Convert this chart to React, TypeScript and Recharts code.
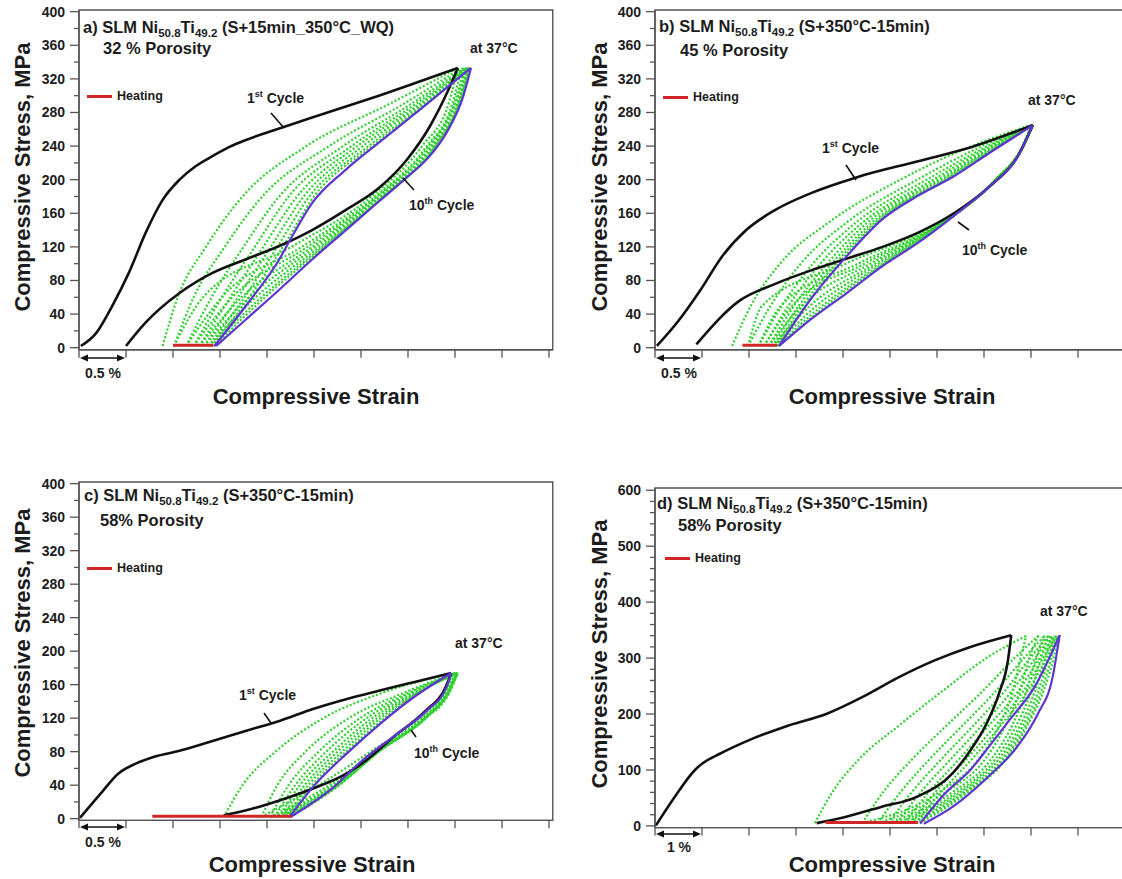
import React from 'react';
import { LineChart, Line, XAxis, YAxis, ReferenceArea } from 'recharts';

type P = [number, number];

// ================= Panel a (32 % porosity) =================
const A_BLACK_LOAD: P[] = [[0.02, 2], [0.18, 17], [0.35, 49], [0.53, 89], [0.71, 137], [0.89, 176], [1.07, 200], [1.24, 216], [1.42, 228], [1.6, 239], [1.77, 247], [2.13, 261], [2.48, 274], [2.84, 287], [3.19, 300], [3.6, 316], [4.03, 333]];
const A_BLACK_UNLOAD: P[] = [[0.5, 2], [0.71, 30], [1.07, 65], [1.42, 89], [1.77, 105], [2.13, 121], [2.48, 140], [2.84, 164], [3.19, 190], [3.49, 224], [3.73, 263], [3.93, 307], [4.03, 333]];
const A_PURPLE_LOAD: P[] = [[1.44, 2], [1.77, 49], [2.13, 105], [2.25, 129], [2.48, 172], [2.84, 212], [3.19, 244], [3.6, 281], [4.17, 333]];
const A_PURPLE_UNLOAD: P[] = [[1.46, 2], [1.77, 33], [2.13, 69], [2.48, 105], [2.84, 140], [3.19, 174], [3.49, 203], [3.73, 228], [3.91, 256], [4.09, 300], [4.17, 333]];
const A_LEVELS = [2, 60, 120, 180, 240, 290, 333];
const A_GREEN_LOAD_X = [
  [0.89, 1.05, 1.35, 1.74, 2.42, 3.3, 4.03],
  [1.01, 1.22, 1.55, 1.95, 2.66, 3.45, 4.07],
  [1.14, 1.41, 1.75, 2.13, 2.81, 3.53, 4.1],
  [1.22, 1.52, 1.87, 2.23, 2.9, 3.58, 4.12],
  [1.28, 1.61, 1.96, 2.32, 2.96, 3.62, 4.13],
  [1.33, 1.69, 2.04, 2.39, 3.02, 3.65, 4.14],
  [1.38, 1.76, 2.11, 2.45, 3.08, 3.68, 4.15],
  [1.41, 1.81, 2.17, 2.5, 3.12, 3.7, 4.16],
];
const A_GREEN_UNLOAD_X = [
  [1.01, 1.32, 2.26, 3.11, 3.65, 3.93, 4.03],
  [1.14, 1.52, 2.37, 3.15, 3.7, 3.97, 4.07],
  [1.22, 1.63, 2.43, 3.17, 3.72, 3.99, 4.1],
  [1.28, 1.73, 2.48, 3.19, 3.74, 4.0, 4.12],
  [1.33, 1.81, 2.52, 3.21, 3.76, 4.02, 4.13],
  [1.38, 1.88, 2.56, 3.22, 3.77, 4.03, 4.14],
  [1.41, 1.94, 2.59, 3.24, 3.79, 4.04, 4.15],
  [1.44, 1.98, 2.61, 3.24, 3.79, 4.04, 4.16],
];
const A_HEATING: P[] = [[1.0, 3], [1.43, 3]];

// ================= Panel b (45 % porosity) =================
const B_BLACK_LOAD: P[] = [[0.02, 2], [0.25, 32], [0.48, 68], [0.71, 108], [0.97, 140], [1.28, 164], [1.66, 184], [2.15, 203], [2.8, 222], [3.37, 239], [4.02, 265]];
const B_BLACK_UNLOAD: P[] = [[0.44, 4], [0.9, 56], [1.28, 76], [1.66, 92], [2.04, 106], [2.42, 120], [2.8, 137], [3.18, 160], [3.56, 192], [3.86, 228], [4.02, 265]];
const B_PURPLE_LOAD: P[] = [[1.32, 2], [1.66, 58], [2.04, 109], [2.42, 153], [2.8, 181], [3.18, 204], [3.56, 232], [4.02, 265]];
const B_PURPLE_UNLOAD: P[] = [[1.32, 2], [1.66, 34], [2.04, 65], [2.42, 97], [2.8, 125], [3.18, 157], [3.56, 192], [3.86, 228], [4.02, 265]];
const B_LEVELS = [2, 50, 100, 150, 200, 240, 265];
const B_GREEN_LOAD_X = [
  [0.82, 1.02, 1.33, 1.86, 2.61, 3.37, 4.0],
  [0.99, 1.23, 1.55, 2.05, 2.79, 3.48, 4.01],
  [1.1, 1.35, 1.68, 2.15, 2.89, 3.54, 4.01],
  [1.16, 1.42, 1.76, 2.22, 2.96, 3.57, 4.01],
  [1.21, 1.48, 1.83, 2.27, 3.01, 3.6, 4.02],
  [1.25, 1.53, 1.88, 2.32, 3.05, 3.62, 4.02],
  [1.28, 1.57, 1.92, 2.35, 3.08, 3.64, 4.02],
  [1.3, 1.6, 1.95, 2.37, 3.1, 3.66, 4.02],
];
const B_GREEN_UNLOAD_X = [
  [0.99, 1.14, 2.03, 3.04, 3.62, 3.91, 4.0],
  [1.1, 1.34, 2.16, 3.06, 3.62, 3.91, 4.01],
  [1.16, 1.46, 2.23, 3.07, 3.63, 3.92, 4.01],
  [1.21, 1.56, 2.29, 3.08, 3.63, 3.92, 4.01],
  [1.25, 1.65, 2.34, 3.08, 3.63, 3.92, 4.02],
  [1.28, 1.72, 2.38, 3.09, 3.63, 3.92, 4.02],
  [1.3, 1.78, 2.42, 3.09, 3.63, 3.92, 4.02],
  [1.32, 1.82, 2.44, 3.1, 3.63, 3.92, 4.02],
];
const B_HEATING: P[] = [[0.93, 3], [1.3, 3]];

// ================= Panel c (58 % porosity) =================
const C_BLACK_LOAD: P[] = [[0.01, 1], [0.23, 30], [0.42, 54], [0.61, 66], [0.8, 74], [1.07, 81], [1.43, 93], [1.78, 105], [2.14, 117], [2.49, 131], [2.85, 143], [3.2, 153], [3.56, 163], [3.96, 174]];
const C_BLACK_UNLOAD: P[] = [[1.54, 4], [1.78, 10], [2.14, 22], [2.49, 36], [2.85, 54], [3.06, 70], [3.36, 99], [3.68, 128], [3.9, 157], [3.96, 174]];
const C_PURPLE_LOAD: P[] = [[2.24, 2], [2.49, 38], [2.85, 78], [3.2, 113], [3.56, 145], [3.96, 174]];
const C_PURPLE_UNLOAD: P[] = [[2.25, 2], [2.67, 34], [3.02, 70], [3.38, 101], [3.7, 129], [3.91, 157], [3.96, 174]];
const C_LEVELS = [2, 40, 80, 120, 150, 174];
const C_GREEN_LOAD_X = [
  [1.54, 1.74, 2.09, 2.6, 3.22, 3.98],
  [1.94, 2.11, 2.41, 2.87, 3.45, 4.0],
  [2.03, 2.23, 2.55, 2.99, 3.5, 4.01],
  [2.08, 2.3, 2.63, 3.06, 3.53, 4.02],
  [2.13, 2.35, 2.7, 3.12, 3.56, 4.02],
  [2.16, 2.4, 2.75, 3.17, 3.58, 4.03],
  [2.2, 2.44, 2.8, 3.21, 3.6, 4.03],
  [2.22, 2.48, 2.84, 3.25, 3.61, 4.03],
];
const C_GREEN_UNLOAD_X = [
  [1.94, 2.55, 3.1, 3.62, 3.88, 3.98],
  [2.03, 2.66, 3.14, 3.65, 3.9, 4.0],
  [2.08, 2.7, 3.16, 3.66, 3.91, 4.01],
  [2.13, 2.72, 3.17, 3.67, 3.92, 4.02],
  [2.16, 2.74, 3.18, 3.68, 3.92, 4.02],
  [2.2, 2.75, 3.18, 3.68, 3.93, 4.03],
  [2.22, 2.76, 3.19, 3.69, 3.93, 4.03],
  [2.25, 2.77, 3.19, 3.69, 3.94, 4.03],
];
const C_HEATING: P[] = [[0.78, 3], [2.26, 3]];

// ================= Panel d (58 % porosity, 1 % scale) =================
const D_BLACK_LOAD: P[] = [[0.02, 1], [0.47, 58], [0.85, 100], [1.0, 111], [1.38, 129], [1.99, 153], [2.75, 177], [3.67, 201], [4.43, 231], [5.19, 266], [5.95, 296], [6.71, 320], [7.58, 341]];
const D_BLACK_UNLOAD: P[] = [[3.44, 5], [4.05, 16], [4.81, 34], [5.57, 52], [6.33, 94], [6.71, 135], [7.09, 189], [7.32, 237], [7.51, 296], [7.58, 341]];
const D_PURPLE_LOAD: P[] = [[5.64, 4], [6.17, 58], [6.71, 100], [7.09, 140], [7.54, 189], [8.08, 249], [8.61, 341]];
const D_PURPLE_UNLOAD: P[] = [[5.72, 4], [6.33, 34], [7.09, 88], [7.7, 141], [8.15, 201], [8.46, 266], [8.61, 341]];
const D_LEVELS = [5, 60, 120, 180, 240, 300, 340];
const D_GREEN_LOAD_X = [
  [3.4, 3.77, 4.35, 5.2, 6.1, 7.05, 7.9],
  [4.41, 4.85, 5.48, 6.21, 6.96, 7.65, 8.16],
  [4.74, 5.22, 5.85, 6.55, 7.24, 7.85, 8.29],
  [4.97, 5.46, 6.1, 6.78, 7.43, 7.98, 8.37],
  [5.15, 5.65, 6.3, 6.96, 7.58, 8.09, 8.43],
  [5.3, 5.82, 6.48, 7.11, 7.72, 8.18, 8.49],
  [5.44, 5.96, 6.63, 7.25, 7.83, 8.26, 8.54],
  [5.55, 6.08, 6.75, 7.36, 7.92, 8.33, 8.58],
];
const D_GREEN_UNLOAD_X = [
  [4.41, 6.04, 6.89, 7.33, 7.61, 7.78, 7.9],
  [4.74, 6.18, 7.03, 7.46, 7.76, 7.96, 8.16],
  [4.97, 6.32, 7.16, 7.6, 7.9, 8.11, 8.29],
  [5.15, 6.42, 7.25, 7.69, 8.0, 8.21, 8.37],
  [5.3, 6.49, 7.32, 7.77, 8.08, 8.3, 8.43],
  [5.44, 6.56, 7.39, 7.83, 8.15, 8.37, 8.49],
  [5.55, 6.61, 7.44, 7.89, 8.21, 8.43, 8.54],
  [5.64, 6.66, 7.48, 7.93, 8.26, 8.48, 8.58],
];
const D_HEATING: P[] = [[3.63, 6], [5.6, 6]];

// ================= Tick values =================
const Y_TICKS_400 = [0, 20, 40, 60, 80, 100, 120, 140, 160, 180, 200, 220, 240, 260, 280, 300, 320, 340, 360, 380, 400];
const Y_TICKS_600 = [0, 20, 40, 60, 80, 100, 120, 140, 160, 180, 200, 220, 240, 260, 280, 300, 320, 340, 360, 380, 400, 420, 440, 460, 480, 500, 520, 540, 560, 580, 600];
const X_TICKS_HALF = [0, 0.5, 1, 1.5, 2, 2.5, 3, 3.5, 4, 4.5, 5];
const X_TICKS_ONE = [0, 1, 2, 3, 4, 5, 6, 7, 8, 9, 10];

// ================= Styling =================
const FONT = '"Liberation Sans", Arial, Helvetica, sans-serif';
const AX = '#555555';
const TXT = '#1c1c1c';
const BLACK = '#111111';
const PURPLE = '#5f34d2';
const GREEN = '#30d030';
const RED = '#d22626';

const pts = (arr: P[]) => arr.map(([x, y]) => ({ x, y }));
const lvl = (xs: number[], levels: number[]) => xs.map((x, i) => ({ x, y: levels[i] }));

interface PanelCfg {
  id: string;
  axisX: number;
  y0: number;
  ppm: number;
  yTop: number;
  yBot: number;
  ppp: number;
  xMax: number;
  yTicks: number[];
  yMajor: number;
  xTicks: number[];
  blackLoad: P[];
  blackUnload: P[];
  purpleLoad: P[];
  purpleUnload: P[];
  levels: number[];
  greenLoad: number[][];
  greenUnload: number[][];
  heating: P[];
}

const PANELS: PanelCfg[] = [
  { id: 'a', axisX: 79, y0: 348, ppm: 0.84, yTop: 402, yBot: -2.4, ppp: 94, xMax: 5.04, yTicks: Y_TICKS_400, yMajor: 40, xTicks: X_TICKS_HALF,
    blackLoad: A_BLACK_LOAD, blackUnload: A_BLACK_UNLOAD, purpleLoad: A_PURPLE_LOAD, purpleUnload: A_PURPLE_UNLOAD,
    levels: A_LEVELS, greenLoad: A_GREEN_LOAD_X, greenUnload: A_GREEN_UNLOAD_X, heating: A_HEATING },
  { id: 'b', axisX: 655, y0: 348, ppm: 0.84, yTop: 402, yBot: -2.4, ppp: 94, xMax: 5.1, yTicks: Y_TICKS_400, yMajor: 40, xTicks: X_TICKS_HALF,
    blackLoad: B_BLACK_LOAD, blackUnload: B_BLACK_UNLOAD, purpleLoad: B_PURPLE_LOAD, purpleUnload: B_PURPLE_UNLOAD,
    levels: B_LEVELS, greenLoad: B_GREEN_LOAD_X, greenUnload: B_GREEN_UNLOAD_X, heating: B_HEATING },
  { id: 'c', axisX: 79, y0: 818.3, ppm: 0.8375, yTop: 402, yBot: -2, ppp: 94, xMax: 5.04, yTicks: Y_TICKS_400, yMajor: 40, xTicks: X_TICKS_HALF,
    blackLoad: C_BLACK_LOAD, blackUnload: C_BLACK_UNLOAD, purpleLoad: C_PURPLE_LOAD, purpleUnload: C_PURPLE_UNLOAD,
    levels: C_LEVELS, greenLoad: C_GREEN_LOAD_X, greenUnload: C_GREEN_UNLOAD_X, heating: C_HEATING },
  { id: 'd', axisX: 655, y0: 825.7, ppm: 0.5595, yTop: 604, yBot: -3, ppp: 47, xMax: 10.2, yTicks: Y_TICKS_600, yMajor: 100, xTicks: X_TICKS_ONE,
    blackLoad: D_BLACK_LOAD, blackUnload: D_BLACK_UNLOAD, purpleLoad: D_PURPLE_LOAD, purpleUnload: D_PURPLE_UNLOAD,
    levels: D_LEVELS, greenLoad: D_GREEN_LOAD_X, greenUnload: D_GREEN_UNLOAD_X, heating: D_HEATING },
];

const makeYTick = (major: number) => (props: any) => {
  const { x, y, payload } = props;
  const v = payload.value as number;
  const isMajor = Math.abs(v % major) < 1e-6;
  return (
    <g>
      <line x1={x} x2={x - (isMajor ? 9 : 5)} y1={y} y2={y} stroke={AX} strokeWidth={1.3} />
      {isMajor && (
        <text x={x - 14} y={y} dy={5} textAnchor="end" fontSize={14} fontWeight="bold" fill={TXT} fontFamily={FONT}>
          {v}
        </text>
      )}
    </g>
  );
};

const xTick = (props: any) => {
  const { x, y } = props;
  return <line x1={x} x2={x} y1={y} y2={y + 8} stroke={AX} strokeWidth={1.3} />;
};

function Panel({ p }: { p: PanelCfg }) {
  const YW = 50;
  const XH = 30;
  const MT = 8;
  const MR = 4;
  const plotTop = p.y0 - p.yTop * p.ppm;
  const plotH = (p.yTop - p.yBot) * p.ppm;
  const plotW = p.xMax * p.ppp;
  const common = { dataKey: 'y', type: 'monotone' as const, dot: false, activeDot: false, isAnimationActive: false };
  return (
    <div style={{ position: 'absolute', left: p.axisX - YW, top: plotTop - MT }}>
      <LineChart width={YW + plotW + MR} height={MT + plotH + XH} margin={{ top: MT, right: MR, bottom: 0, left: 0 }}>
        <XAxis type="number" dataKey="x" domain={[0, p.xMax]} ticks={p.xTicks} interval={0} allowDataOverflow height={XH}
          tickSize={0} tickMargin={0} tickLine={false} tick={xTick} axisLine={{ stroke: AX, strokeWidth: 1.4 }} />
        <YAxis type="number" domain={[p.yBot, p.yTop]} ticks={p.yTicks} interval={0} allowDataOverflow width={YW}
          tickSize={0} tickMargin={0} tickLine={false} tick={makeYTick(p.yMajor)} axisLine={{ stroke: AX, strokeWidth: 1.4 }} />
        <ReferenceArea x1={0} x2={p.xMax} y1={p.yBot} y2={p.yTop} fill="none" stroke={AX} strokeWidth={1.4} ifOverflow="visible" />
        {p.greenLoad.map((row, i) => (
          <Line key={`gl${i}`} {...common} data={lvl(row, p.levels)} stroke={GREEN} strokeWidth={2.2} strokeDasharray="2 2" />
        ))}
        {p.greenUnload.map((row, i) => (
          <Line key={`gu${i}`} {...common} data={lvl(row, p.levels)} stroke={GREEN} strokeWidth={2.2} strokeDasharray="2 2" />
        ))}
        <Line key="bl" {...common} data={pts(p.blackLoad)} stroke={BLACK} strokeWidth={2.6} />
        <Line key="bu" {...common} data={pts(p.blackUnload)} stroke={BLACK} strokeWidth={2.6} />
        <Line key="pl" {...common} data={pts(p.purpleLoad)} stroke={PURPLE} strokeWidth={2.2} />
        <Line key="pu" {...common} data={pts(p.purpleUnload)} stroke={PURPLE} strokeWidth={2.2} />
        <Line key="ht" {...common} type="linear" data={pts(p.heating)} stroke={RED} strokeWidth={3} />
      </LineChart>
    </div>
  );
}

const T = ({ x, y, size = 14, children }: { x: number; y: number; size?: number; children: React.ReactNode }) => (
  <div style={{ position: 'absolute', left: x, top: y, transform: 'translateY(-50%)', fontSize: size, fontWeight: 'bold', whiteSpace: 'nowrap', lineHeight: 1, color: TXT, fontFamily: FONT }}>
    {children}
  </div>
);

const TC = ({ x, y, size = 22, rotate = false, children }: { x: number; y: number; size?: number; rotate?: boolean; children: React.ReactNode }) => (
  <div style={{ position: 'absolute', left: x, top: y, transform: `translate(-50%, -50%)${rotate ? ' rotate(-90deg)' : ''}`, fontSize: size, fontWeight: 'bold', whiteSpace: 'nowrap', lineHeight: 1, color: TXT, fontFamily: FONT }}>
    {children}
  </div>
);

const Sub = ({ children }: { children: React.ReactNode }) => (
  <span style={{ fontSize: 11.5, position: 'relative', top: 4 }}>{children}</span>
);
const Sup = ({ children }: { children: React.ReactNode }) => (
  <span style={{ fontSize: 9, position: 'relative', top: -6 }}>{children}</span>
);

const Title = ({ x, y, tag, cond }: { x: number; y: number; tag: string; cond: string }) => (
  <T x={x} y={y} size={16.5}>
    {tag} SLM Ni<Sub>50.8</Sub>Ti<Sub>49.2</Sub> {cond}
  </T>
);

const Legend = ({ x, y }: { x: number; y: number }) => (
  <>
    <div style={{ position: 'absolute', left: x, top: y - 1.5, width: 25, height: 3, background: RED }} />
    <T x={x + 30} y={y} size={12.5}>Heating</T>
  </>
);

const DimArrow = ({ x1, x2, y }: { x1: number; x2: number; y: number }) => (
  <g>
    <line x1={x1 + 3} x2={x2 - 3} y1={y} y2={y} stroke="#111" strokeWidth={1.6} />
    <polygon points={`${x1 + 1},${y} ${x1 + 9},${y - 3.5} ${x1 + 9},${y + 3.5}`} fill="#111" />
    <polygon points={`${x2 - 1},${y} ${x2 - 9},${y - 3.5} ${x2 - 9},${y + 3.5}`} fill="#111" />
  </g>
);

const Pointer = ({ x1, y1, x2, y2 }: { x1: number; y1: number; x2: number; y2: number }) => (
  <line x1={x1} y1={y1} x2={x2} y2={y2} stroke="#111" strokeWidth={1.6} />
);

export default function App() {
  return (
    <div style={{ position: 'absolute', left: 0, top: 0, width: 1122, height: 879, overflow: 'hidden', background: '#ffffff', fontFamily: FONT }}>
      {PANELS.map((p) => (
        <Panel key={p.id} p={p} />
      ))}

      <svg width={1122} height={879} style={{ position: 'absolute', left: 0, top: 0, pointerEvents: 'none' }}>
        <DimArrow x1={79} x2={126} y={358} />
        <DimArrow x1={655} x2={702} y={358} />
        <DimArrow x1={79} x2={126} y={827} />
        <DimArrow x1={655} x2={702} y={834} />
        <Pointer x1={271} y1={113} x2={284} y2={128} />
        <Pointer x1={414} y1={190} x2={403} y2={178} />
        <Pointer x1={846} y1={165} x2={856} y2={180} />
        <Pointer x1={969} y1={230} x2={958} y2={222} />
        <Pointer x1={264} y1={713} x2={271} y2={723} />
        <Pointer x1={416} y1={737} x2={411} y2={730} />
      </svg>

      {/* Panel a */}
      <Title x={83} y={27} tag="a)" cond="(S+15min_350°C_WQ)" />
      <T x={103} y={48} size={16.5}>32 % Porosity</T>
      <Legend x={87} y={96} />
      <T x={247} y={98}>1<Sup>st</Sup> Cycle</T>
      <T x={409} y={205}>10<Sup>th</Sup> Cycle</T>
      <T x={470} y={48}>at 37°C</T>
      <TC x={103} y={373} size={14}>0.5 %</TC>
      <TC x={316} y={397}>Compressive Strain</TC>
      <TC x={23} y={177} rotate>Compressive Stress, MPa</TC>

      {/* Panel b */}
      <Title x={659} y={26} tag="b)" cond="(S+350°C-15min)" />
      <T x={680} y={50} size={16.5}>45 % Porosity</T>
      <Legend x={663} y={97} />
      <T x={822} y={148}>1<Sup>st</Sup> Cycle</T>
      <T x={962} y={250}>10<Sup>th</Sup> Cycle</T>
      <T x={1028} y={100}>at 37°C</T>
      <TC x={679} y={373} size={14}>0.5 %</TC>
      <TC x={892} y={397}>Compressive Strain</TC>
      <TC x={600} y={177} rotate>Compressive Stress, MPa</TC>

      {/* Panel c */}
      <Title x={84} y={495} tag="c)" cond="(S+350°C-15min)" />
      <T x={100} y={520} size={16.5}>58% Porosity</T>
      <Legend x={87} y={568} />
      <T x={239} y={695}>1<Sup>st</Sup> Cycle</T>
      <T x={414} y={753}>10<Sup>th</Sup> Cycle</T>
      <T x={455} y={643}>at 37°C</T>
      <TC x={103} y={842} size={14}>0.5 %</TC>
      <TC x={312} y={865}>Compressive Strain</TC>
      <TC x={23} y={643} rotate>Compressive Stress, MPa</TC>

      {/* Panel d */}
      <Title x={657} y={503} tag="d)" cond="(S+350°C-15min)" />
      <T x={678} y={525} size={16.5}>58% Porosity</T>
      <Legend x={665} y={558} />
      <T x={1040} y={611}>at 37°C</T>
      <TC x={679} y={847} size={14}>1 %</TC>
      <TC x={892} y={865}>Compressive Strain</TC>
      <TC x={600} y={654} rotate>Compressive Stress, MPa</TC>
    </div>
  );
}
